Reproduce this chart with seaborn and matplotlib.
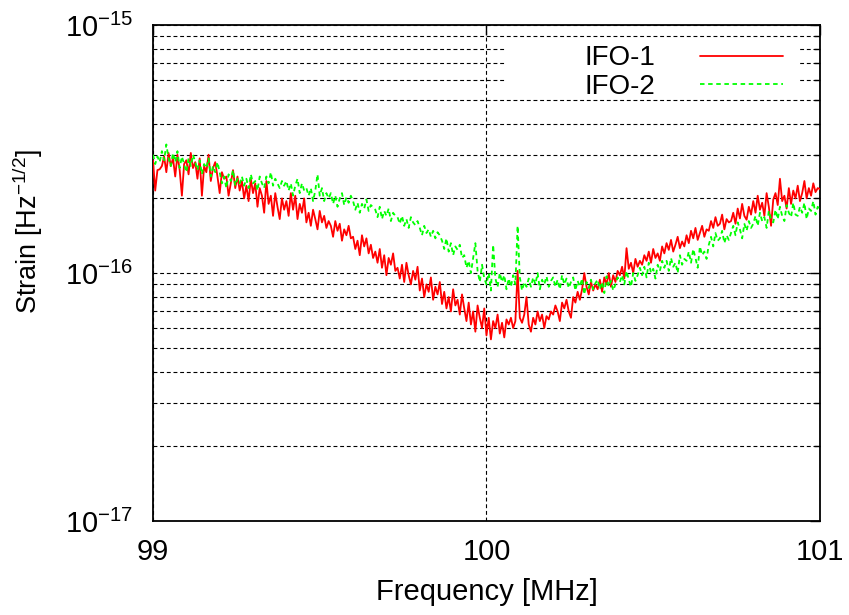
import numpy as np
import pandas as pd
import matplotlib
matplotlib.use("Agg")
import matplotlib.pyplot as plt
from matplotlib.patches import Rectangle
from matplotlib.ticker import LogLocator, NullFormatter
import seaborn as sns

# Frequency sampling of the spectra (MHz)
freq_start = 99.0
freq_stop = 101.0
n_bins = 301

# Strain amplitude spectral density, in units of 1e-16 Hz^-1/2
ifo1 = [
    2.85, 2.15, 2.60, 2.62, 2.70, 2.95, 2.55, 3.05, 2.70, 2.90,
    2.45, 3.00, 2.60, 2.05, 2.75, 2.85, 2.50, 3.05, 2.65, 2.80,
    2.40, 2.90, 2.05, 2.70, 2.55, 3.00, 2.35, 2.65, 2.80, 2.45,
    2.10, 2.55, 2.40, 2.45, 2.05, 2.30, 2.60, 2.20, 2.45, 2.15,
    2.35, 2.00, 2.25, 1.95, 2.40, 2.10, 2.30, 1.85, 2.20, 2.05,
    1.75, 2.35, 1.90, 2.05, 1.70, 2.10, 1.85, 1.65, 2.00, 1.80,
    1.95, 1.70, 2.10, 1.80, 2.05, 1.65, 1.90, 1.75, 2.00, 1.60,
    1.75, 1.55, 1.80, 1.65, 1.50, 1.78, 1.60, 1.70, 1.52, 1.62,
    1.55, 1.40, 1.62, 1.48, 1.58, 1.35, 1.50, 1.42, 1.55, 1.38,
    1.40, 1.25, 1.35, 1.18, 1.42, 1.28, 1.38, 1.20, 1.30, 1.15,
    1.22, 1.10, 1.25, 1.05, 1.18, 0.98, 1.15, 1.08, 1.20, 1.02,
    1.05, 0.95, 1.08, 0.92, 1.10, 0.98, 0.90, 1.02, 0.94, 1.06,
    0.85, 0.95, 0.80, 0.90, 0.84, 0.96, 0.78, 0.88, 0.82, 0.92,
    0.75, 0.84, 0.72, 0.80, 0.70, 0.86, 0.74, 0.78, 0.68, 0.82,
    0.72, 0.64, 0.76, 0.62, 0.70, 0.58, 0.74, 0.66, 0.60, 0.72,
    0.56, 0.66, 0.54, 0.64, 0.60, 0.68, 0.57, 0.63, 0.55, 0.65,
    0.62, 0.66, 0.60, 0.64, 1.02, 0.66, 0.63, 0.68, 0.80, 0.62,
    0.58, 0.66, 0.62, 0.70, 0.64, 0.68, 0.60, 0.67, 0.65, 0.70,
    0.68, 0.74, 0.70, 0.64, 0.76, 0.72, 0.78, 0.70, 0.66, 0.80,
    0.76, 0.84, 0.78, 0.86, 1.00, 0.88, 0.82, 0.92, 0.85, 0.90,
    0.86, 0.94, 0.84, 0.96, 0.90, 1.00, 0.88, 0.98, 0.92, 1.02,
    0.98, 1.06, 0.95, 1.26, 1.04, 1.10, 1.00, 1.14, 1.06, 1.12,
    1.08, 1.18, 1.12, 1.22, 1.10, 1.25, 1.15, 1.20, 1.12, 1.28,
    1.20, 1.32, 1.24, 1.36, 1.22, 1.30, 1.40, 1.26, 1.34, 1.28,
    1.42, 1.32, 1.48, 1.38, 1.52, 1.36, 1.45, 1.55, 1.40, 1.50,
    1.48, 1.62, 1.52, 1.68, 1.55, 1.58, 1.72, 1.50, 1.65, 1.60,
    1.62, 1.75, 1.58, 1.82, 1.66, 1.90, 1.70, 1.64, 1.85, 1.72,
    1.95, 1.75, 2.05, 1.80, 1.92, 1.70, 2.10, 1.85, 1.55, 1.98,
    2.10, 1.88, 2.40, 1.95, 2.05, 1.82, 2.20, 1.90, 2.15, 2.00,
    2.25, 1.95, 2.10, 2.35, 2.00, 2.20, 2.05, 2.30, 2.12, 2.20,
    2.18,
]

ifo2 = [
    3.00, 2.75, 2.95, 2.80, 3.10, 2.85, 3.30, 2.90, 2.70, 3.05,
    2.80, 3.10, 2.65, 2.95, 2.75, 2.55, 2.90, 2.70, 3.00, 2.80,
    2.60, 2.85, 2.50, 2.75, 2.65, 2.90, 2.45, 2.70, 2.55, 2.80,
    2.55, 2.30, 2.45, 2.20, 2.50, 2.35, 2.60, 2.25, 2.40, 2.30,
    2.45, 2.25, 2.40, 2.20, 2.50, 2.30, 2.35, 2.15, 2.45, 2.30,
    2.20, 2.45, 2.30, 2.55, 2.25, 2.40, 2.30, 2.20, 2.35, 2.25,
    2.35, 2.15, 2.30, 2.05, 2.25, 2.40, 2.10, 2.30, 2.15, 2.20,
    2.05, 2.20, 1.95, 2.15, 2.50, 2.05, 2.20, 1.95, 2.10, 2.00,
    2.10, 1.90, 2.05, 1.85, 2.00, 2.10, 1.88, 2.02, 1.92, 2.05,
    1.95, 1.80, 1.92, 1.75, 1.90, 1.82, 1.98, 1.78, 1.88, 1.84,
    1.80, 1.68, 1.85, 1.65, 1.78, 1.70, 1.82, 1.62, 1.75, 1.70,
    1.68, 1.58, 1.70, 1.55, 1.65, 1.52, 1.68, 1.60, 1.56, 1.62,
    1.52, 1.42, 1.55, 1.45, 1.50, 1.40, 1.48, 1.38, 1.46, 1.42,
    1.35, 1.25, 1.38, 1.22, 1.32, 1.18, 1.28, 1.24, 1.30, 1.15,
    1.18, 1.05, 1.12, 1.00, 1.15, 1.32, 1.02, 0.92, 1.08, 0.95,
    0.90, 1.00, 0.85, 1.30, 0.95, 0.88, 1.00, 0.92, 0.98, 0.86,
    0.95, 0.88, 0.98, 0.90, 1.55, 0.96, 0.85, 0.92, 0.88, 0.95,
    0.88, 0.96, 0.90, 1.00, 0.86, 0.94, 0.90, 0.97, 0.88, 0.93,
    0.96, 0.88, 0.94, 0.86, 0.98, 0.90, 0.95, 0.87, 0.92, 0.96,
    0.85, 0.93, 0.88, 0.95, 0.82, 0.92, 0.87, 0.94, 0.86, 0.91,
    0.94, 0.86, 0.92, 0.83, 0.97, 0.88, 0.93, 0.85, 0.90, 0.96,
    0.92, 0.98, 0.90, 1.02, 0.94, 0.88, 1.00, 0.93, 0.98, 1.05,
    0.98, 1.06, 0.96, 1.10, 1.00, 1.04, 0.95, 1.08, 1.02, 1.12,
    1.05, 1.12, 1.02, 1.15, 1.06, 1.10, 1.00, 1.18, 1.08, 1.14,
    1.12, 1.22, 1.10, 1.25, 1.15, 1.05, 1.28, 1.18, 1.22, 1.14,
    1.30, 1.40, 1.28, 1.45, 1.35, 1.38, 1.48, 1.32, 1.42, 1.36,
    1.45, 1.55, 1.42, 1.60, 1.50, 1.38, 1.58, 1.48, 1.62, 1.52,
    1.58, 1.70, 1.55, 1.75, 1.62, 1.68, 1.52, 1.78, 1.65, 1.60,
    1.80, 1.65, 1.85, 1.70, 1.62, 1.88, 1.75, 1.68, 1.92, 1.72,
    1.70, 1.85, 1.75, 1.92, 1.65, 1.82, 1.78, 1.95, 1.72, 1.85,
    1.80,
]

detectors = ["IFO-1", "IFO-2"]
colors = {"IFO-1": "#ff0000", "IFO-2": "#00ff00"}
x_ticks = [99, 100, 101]
x_tick_labels = ["99", "100", "101"]
y_ticks = [1e-17, 1e-16, 1e-15]
y_tick_labels = [r"$\mathregular{10^{-17}}$", r"$\mathregular{10^{-16}}$",
                 r"$\mathregular{10^{-15}}$"]
unit = 1e-16

freq = np.linspace(freq_start, freq_stop, n_bins)
df = pd.concat([
    pd.DataFrame({"freq": freq, "strain": np.array(vals) * unit, "detector": name})
    for name, vals in zip(detectors, [ifo1, ifo2])
], ignore_index=True)

sns.set_style("white")
plt.rcParams["font.family"] = ["Liberation Sans", "DejaVu Sans"]
plt.rcParams["mathtext.fontset"] = "custom"
plt.rcParams["mathtext.rm"] = "Liberation Sans"
plt.rcParams["mathtext.it"] = "Liberation Sans:italic"
plt.rcParams["mathtext.bf"] = "Liberation Sans:bold"
for key in ["text.color", "axes.labelcolor", "xtick.color", "ytick.color"]:
    plt.rcParams[key] = "black"

fig = plt.figure(figsize=(8.49, 6.15), dpi=100)
ax = fig.add_axes([0.1802, 0.1528, 0.7856, 0.8065])

sns.lineplot(data=df, x="freq", y="strain", hue="detector", style="detector",
             palette=colors, dashes={"IFO-1": "", "IFO-2": (2.5, 2.0)},
             estimator=None, errorbar=None, linewidth=1.3, legend=False,
             ax=ax, zorder=3)

ax.set_yscale("log")
ax.set_xlim(99, 101)
ax.set_ylim(1e-17, 1e-15)

ax.set_xticks(x_ticks, labels=x_tick_labels)
ax.set_yticks(y_ticks, labels=y_tick_labels)
ax.yaxis.set_minor_locator(LogLocator(base=10, subs=np.arange(2, 10)))
ax.yaxis.set_minor_formatter(NullFormatter())

ax.tick_params(which="both", direction="in", top=True, right=True,
               colors="black", labelsize=21)
ax.tick_params(which="major", length=7, width=1.0)
ax.tick_params(which="minor", length=4, width=1.0)
ax.tick_params(axis="x", pad=12)
ax.tick_params(axis="y", pad=14)

grid_style = dict(color="black", linestyle=(0, (3.5, 2.5)), linewidth=0.8)
ax.grid(which="both", axis="y", **grid_style)
ax.grid(which="major", axis="x", **grid_style)
ax.set_axisbelow(True)

for spine in ax.spines.values():
    spine.set_color("black")
    spine.set_linewidth(1.3)

ax.set_xlabel("Frequency [MHz]", fontsize=21)
ax.set_ylabel(r"Strain [Hz$^{\mathregular{-1/2}}$]", fontsize=19.5)
ax.xaxis.set_label_coords(0.5, -0.115)
ax.yaxis.set_label_coords(-0.162, 0.583)

# opaque key area that hides the grid behind the legend
ax.add_patch(Rectangle((0.528, 0.859), 0.442, 0.107, transform=ax.transAxes,
                       facecolor="white", edgecolor="none", zorder=1))

handles = ax.get_lines()[:2]
ax.legend(handles, detectors, loc="upper right", bbox_to_anchor=(0.9445, 0.959),
          frameon=False, markerfirst=False, fontsize=20, handlelength=3.0,
          handletextpad=1.6, labelspacing=0.1, borderpad=0, borderaxespad=0)

fig.savefig("out.png", dpi=100)
